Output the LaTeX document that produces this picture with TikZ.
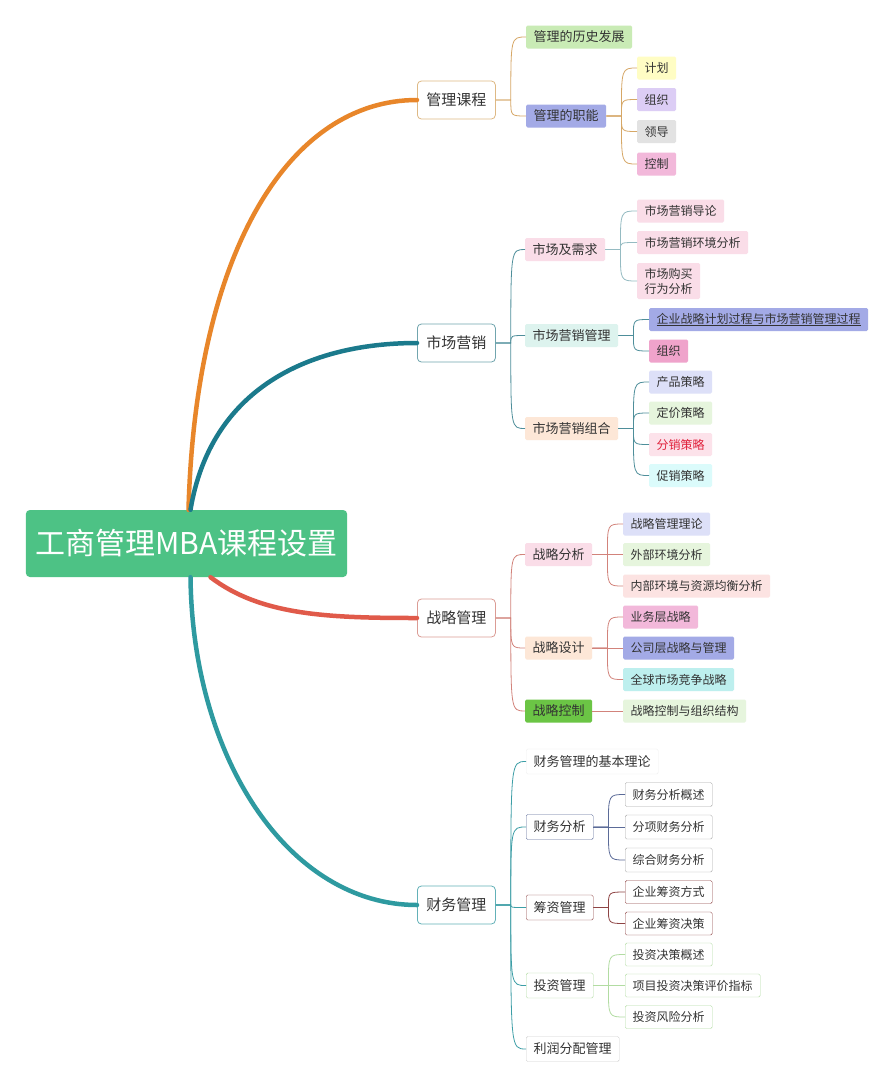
\documentclass[tikz,border=0pt]{standalone}
\usepackage{fontspec}
\setmainfont{Noto Sans CJK SC}
\usetikzlibrary{calc}
\definecolor{rootgreen}{HTML}{4DC285}
\definecolor{txtgrey}{HTML}{333333}
\definecolor{glorange}{HTML}{E8862A}
\definecolor{glline}{HTML}{D6A766}
\definecolor{scteal}{HTML}{1B7A8C}
\definecolor{scline}{HTML}{4E8E9A}
\definecolor{zlred}{HTML}{E05A4A}
\definecolor{zlline}{HTML}{D2837B}
\definecolor{cwteal}{HTML}{2E9AA0}
\definecolor{cwline}{HTML}{3C9EA6}
\definecolor{fxgreen}{HTML}{C9EBB5}
\definecolor{fxblue}{HTML}{A3AAE6}
\definecolor{fxyellow}{HTML}{FFFDC4}
\definecolor{fxlilac}{HTML}{DCCDF5}
\definecolor{fxgrey}{HTML}{E2E2E2}
\definecolor{fxpink}{HTML}{F2B8DA}
\definecolor{fxrose}{HTML}{FADDE8}
\definecolor{fxmint}{HTML}{DDF3EE}
\definecolor{fxpeach}{HTML}{FDE7D7}
\definecolor{fxmagenta}{HTML}{EFA3CB}
\definecolor{fxlavender}{HTML}{DDE0F8}
\definecolor{fxpale}{HTML}{E6F5DD}
\definecolor{fxblush}{HTML}{FCE2EA}
\definecolor{fxcyan}{HTML}{DBFBFB}
\definecolor{fxsalmon}{HTML}{FCE3E2}
\definecolor{fxaqua}{HTML}{BDEFEE}
\definecolor{fxleaf}{HTML}{6BC545}
\definecolor{fxred}{HTML}{E0203A}
\definecolor{bdfaint}{HTML}{EEEEEE}
\definecolor{bdslate}{HTML}{5B6B98}
\definecolor{bdmaroon}{HTML}{8E4444}
\definecolor{bdsage}{HTML}{B2DCA2}
\definecolor{bdsilver}{HTML}{CFCFCF}
\definecolor{bdgrey}{HTML}{A8A8A8}
\def\twig[#1](#2)(#3){\draw[#1] let \p1=(#2.east), \p2=(#3.west) in (\p1) -- (\x1+15,\y1) .. controls (\x1+15,\y2) .. (\p2);}
\tikzset{
	rootbox/.style={fill=rootgreen, rounded corners=4, text=white, font=\fontsize{30}{34}\selectfont, minimum height=67, inner xsep=9.5},
	topicbox/.style={draw, fill=white, rounded corners=4, line width=0.8, font=\fontsize{15}{18}\selectfont, minimum height=38, inner xsep=9, anchor=west, text=txtgrey},
	subbox/.style={rounded corners=1.5, font=\fontsize{13}{16}\selectfont, minimum height=23, inner xsep=7.5, inner ysep=2, anchor=west, text=txtgrey},
	leafbox/.style={subbox, font=\fontsize{12}{15}\selectfont},
	bough/.style={line width=4.5, line cap=round},
	thin/.style={line width=0.8},
}

\begin{document}
\begin{tikzpicture}[x=1pt, y=-1pt]
		%%%%% START %%%%%
		\useasboundingbox[fill=white] (0, 0) rectangle (896, 1088);
		
		\node[rootbox] (root) at (186.5, 543.5) {工商管理MBA课程设置};
		
		%% level 1
		\node[topicbox, draw=glline!80!white] (gl) at (417, 100) {管理课程};
		\node[topicbox, draw=scline!80!white] (sc) at (417, 343) {市场营销};
		\node[topicbox, draw=zlline!80!white] (zl) at (417, 618) {战略管理};
		\node[topicbox, draw=cwline!80!white] (cw) at (417, 905) {财务管理};
		
		\draw[bough, color=glorange] ($(root.north)+(2,0)$) .. controls +(7,-260) and +(-127,0) .. (gl.west);
		\draw[bough, color=scteal] ($(root.north)+(4,0)$) .. controls +(20,-120) and +(-110,0) .. (sc.west);
		\draw[bough, color=zlred] ($(root.south)+(24,0)$) .. controls +(50,38) and +(-90,0) .. (zl.west);
		\draw[bough, color=cwteal] ($(root.south)+(4,0)$) .. controls +(2,183) and +(-127,0) .. (cw.west);
		
		%% 管理课程
		\node[subbox, fill=fxgreen] (gl1) at (526, 37) {管理的历史发展};
		\node[subbox, fill=fxblue] (gl2) at (526, 116) {管理的职能};
		\node[leafbox, fill=fxyellow] (gl21) at (637, 68) {计划};
		\node[leafbox, fill=fxlilac] (gl22) at (637, 99.5) {组织};
		\node[leafbox, fill=fxgrey] (gl23) at (637, 131.5) {领导};
		\node[leafbox, fill=fxpink] (gl24) at (637, 164) {控制};
		\foreach \k in {gl1, gl2} {\twig[thin, glline](gl)(\k)}
		\foreach \k in {gl21, gl22, gl23, gl24} {\twig[thin, glline](gl2)(\k)}
		
		%% 市场营销
		\node[subbox, fill=fxrose] (sc1) at (525, 249.5) {市场及需求};
		\node[subbox, fill=fxmint] (sc2) at (525, 335.5) {市场营销管理};
		\node[subbox, fill=fxpeach] (sc3) at (525, 428.5) {市场营销组合};
		\node[leafbox, fill=fxrose] (sc11) at (637, 211) {市场营销导论};
		\node[leafbox, fill=fxrose] (sc12) at (637, 242.5) {市场营销环境分析};
		\node[leafbox, fill=fxrose, align=left, minimum height=36] (sc13) at (637, 281) {市场购买\\行为分析};
		\node[leafbox, fill=fxblue] (sc21) at (649, 319.5) {\underline{企业战略计划过程与市场营销管理过程}};
		\node[leafbox, fill=fxmagenta] (sc22) at (649, 351) {组织};
		\node[leafbox, fill=fxlavender] (sc31) at (649, 382) {产品策略};
		\node[leafbox, fill=fxpale] (sc32) at (649, 413) {定价策略};
		\node[leafbox, fill=fxblush, text=fxred] (sc33) at (649, 444.5) {分销策略};
		\node[leafbox, fill=fxcyan] (sc34) at (649, 475.5) {促销策略};
		\foreach \k in {sc1, sc2, sc3} {\twig[thin, scline](sc)(\k)}
		\foreach \k in {sc11, sc12, sc13} {\twig[thin, scline!60!white](sc1)(\k)}
		\foreach \k in {sc21, sc22} {\twig[thin, scline](sc2)(\k)}
		\foreach \k in {sc31, sc32, sc33, sc34} {\twig[thin, scline](sc3)(\k)}
		
		%% 战略管理
		\node[subbox, fill=fxrose] (zl1) at (525, 554.5) {战略分析};
		\node[subbox, fill=fxpeach] (zl2) at (525, 648) {战略设计};
		\node[subbox, fill=fxleaf] (zl3) at (525, 711) {战略控制};
		\node[leafbox, fill=fxlavender] (zl11) at (623, 524) {战略管理理论};
		\node[leafbox, fill=fxpale] (zl12) at (623, 554.5) {外部环境分析};
		\node[leafbox, fill=fxsalmon] (zl13) at (623, 586) {内部环境与资源均衡分析};
		\node[leafbox, fill=fxpink] (zl21) at (623, 617) {业务层战略};
		\node[leafbox, fill=fxblue] (zl22) at (623, 648) {公司层战略与管理};
		\node[leafbox, fill=fxaqua] (zl23) at (623, 679.5) {全球市场竞争战略};
		\node[leafbox, fill=fxpale] (zl31) at (623, 711) {战略控制与组织结构};
		\foreach \k in {zl1, zl2, zl3} {\twig[thin, zlline](zl)(\k)}
		\foreach \k in {zl11, zl12, zl13} {\twig[thin, zlline](zl1)(\k)}
		\foreach \k in {zl21, zl22, zl23} {\twig[thin, zlline](zl2)(\k)}
		\twig[thin, zlline](zl3)(zl31)
		
		%% 财务管理
		\node[subbox, fill=white, draw=bdfaint, minimum height=25] (cw1) at (526, 761.5) {财务管理的基本理论};
		\node[subbox, fill=white, draw=bdslate, minimum height=25] (cw2) at (526, 827) {财务分析};
		\node[subbox, fill=white, draw=bdmaroon, minimum height=25] (cw3) at (526, 907.5) {筹资管理};
		\node[subbox, fill=white, draw=bdsage, minimum height=25] (cw4) at (526, 985.5) {投资管理};
		\node[subbox, fill=white, draw=bdsilver, minimum height=25] (cw5) at (526, 1049) {利润分配管理};
		\node[leafbox, fill=white, draw=bdgrey, minimum height=24] (cw21) at (625, 794.5) {财务分析概述};
		\node[leafbox, fill=white, draw=bdgrey, minimum height=24] (cw22) at (625, 827) {分项财务分析};
		\node[leafbox, fill=white, draw=bdgrey, minimum height=24] (cw23) at (625, 860) {综合财务分析};
		\node[leafbox, fill=white, draw=bdmaroon] (cw31) at (625, 892) {企业筹资方式};
		\node[leafbox, fill=white, draw=bdmaroon] (cw32) at (625, 923.5) {企业筹资决策};
		\node[leafbox, fill=white, draw=bdsage] (cw41) at (625, 954.5) {投资决策概述};
		\node[leafbox, fill=white, draw=bdsage] (cw42) at (625, 985.5) {项目投资决策评价指标};
		\node[leafbox, fill=white, draw=bdsage] (cw43) at (625, 1017) {投资风险分析};
		\foreach \k in {cw1, cw2, cw3, cw4, cw5} {\twig[thin, cwline](cw)(\k)}
		\foreach \k in {cw21, cw22, cw23} {\twig[thin, bdslate](cw2)(\k)}
		\foreach \k in {cw31, cw32} {\twig[thin, bdmaroon](cw3)(\k)}
		\foreach \k in {cw41, cw42, cw43} {\twig[thin, bdsage](cw4)(\k)}
		
		%%%%% END %%%%%
\end{tikzpicture}
\end{document}
